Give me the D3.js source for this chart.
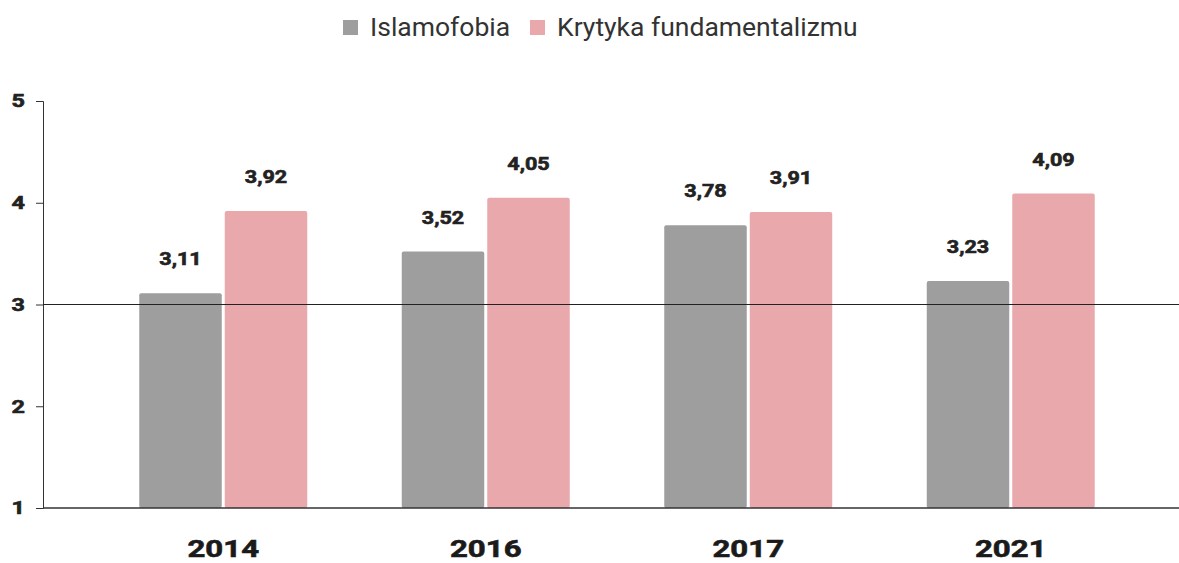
<!DOCTYPE html>
<html>
<head>
<meta charset="utf-8">
<script src="https://cdn.jsdelivr.net/npm/d3@7"></script>
<style>
  body { margin: 0; background: #fff; font-family: Roboto, "Noto Sans", sans-serif; }
</style>
</head>
<body>
<div id="chart"></div>
<script>
const years = ["2014", "2016", "2017", "2021"];
const seriesNames = ["Islamofobia", "Krytyka fundamentalizmu"];
const islamofobia = [3.11, 3.52, 3.78, 3.23];
const krytyka = [3.92, 4.05, 3.91, 4.09];
const yTicks = [1, 2, 3, 4, 5];
const colors = ["#9e9e9e", "#e8a8ac"];

const width = 1179, height = 563;
const plotLeft = 43, plotRight = 1179, plotTop = 101, plotBottom = 508;

const svg = d3.select("#chart").append("svg")
  .attr("width", width).attr("height", height);

// the reference text is drawn a bit wider and heavier than plain Roboto
function stretch(sel, sx) {
  sel.each(function () {
    const t = d3.select(this);
    const x = +t.attr("x") || 0, y = +t.attr("y") || 0;
    t.attr("x", 0).attr("y", 0)
      .attr("transform", "translate(" + x + "," + y + ") scale(" + sx + ",1)")
      .attr("stroke", t.attr("fill")).attr("stroke-width", 0.6);
  });
}

const data = years.map((y, i) => ({ year: y, values: [islamofobia[i], krytyka[i]] }));

const x0 = d3.scaleBand().domain(years).range([92, 1142])
  .paddingInner(0.36).paddingOuter(0.18);
const x1 = d3.scaleBand().domain(seriesNames).range([0, x0.bandwidth()])
  .paddingInner(0.035);
const y = d3.scaleLinear().domain([1, 5]).range([plotBottom, plotTop]);

// y axis
const yAxis = svg.append("g")
  .attr("transform", "translate(" + plotLeft + ",0)")
  .call(d3.axisLeft(y).tickValues(yTicks).tickSize(7).tickPadding(11).tickFormat(d3.format("d")));
yAxis.selectAll("path, line").attr("stroke", "#333");
yAxis.selectAll("text")
  .attr("font-family", "Roboto").attr("font-size", 18).attr("font-weight", "bold").attr("fill", "#222")
  .call(stretch, 1.3);

// bars
const groups = svg.append("g").selectAll("g")
  .data(data).enter().append("g")
  .attr("transform", d => "translate(" + x0(d.year) + ",0)");

groups.selectAll("rect")
  .data(d => d.values.map((v, i) => ({ key: seriesNames[i], value: v, i: i })))
  .enter().append("rect")
  .attr("x", d => x1(d.key))
  .attr("y", d => y(d.value))
  .attr("width", x1.bandwidth())
  .attr("height", d => y(1) - y(d.value))
  .attr("rx", 2)
  .attr("fill", d => colors[d.i]);

groups.selectAll("text")
  .data(d => d.values.map((v, i) => ({ key: seriesNames[i], value: v })))
  .enter().append("text")
  .attr("x", d => x1(d.key) + x1.bandwidth() / 2)
  .attr("y", d => y(d.value) - 28)
  .attr("text-anchor", "middle")
  .attr("font-family", "Roboto").attr("font-size", 18).attr("font-weight", "bold").attr("fill", "#222")
  .text(d => d3.format(".2f")(d.value).replace(".", ","))
  .call(stretch, 1.2);

// baseline and reference line at 3
svg.append("line")
  .attr("x1", plotLeft).attr("x2", plotRight)
  .attr("y1", y(1)).attr("y2", y(1))
  .attr("stroke", "#333").attr("stroke-width", 1.5);
svg.append("line")
  .attr("x1", plotLeft).attr("x2", plotRight)
  .attr("y1", y(3)).attr("y2", y(3))
  .attr("stroke", "#222").attr("stroke-width", 1.2);

// x labels
svg.append("g").selectAll("text")
  .data(years).enter().append("text")
  .attr("x", d => x0(d) + x0.bandwidth() / 2)
  .attr("y", 557)
  .attr("text-anchor", "middle")
  .attr("font-family", "Roboto").attr("font-size", 24).attr("font-weight", "bold").attr("fill", "#1a1a1a")
  .text(d => d)
  .call(stretch, 1.3);

// legend
const legend = svg.append("g");
const legendX = [343, 530];
seriesNames.forEach((name, i) => {
  legend.append("rect")
    .attr("x", legendX[i]).attr("y", 20).attr("width", 15).attr("height", 15)
    .attr("fill", colors[i]);
  legend.append("text")
    .attr("x", legendX[i] + 27).attr("y", 36)
    .attr("font-family", "Roboto").attr("font-size", 26.5).attr("fill", "#333")
    .text(name);
});
</script>
</body>
</html>
